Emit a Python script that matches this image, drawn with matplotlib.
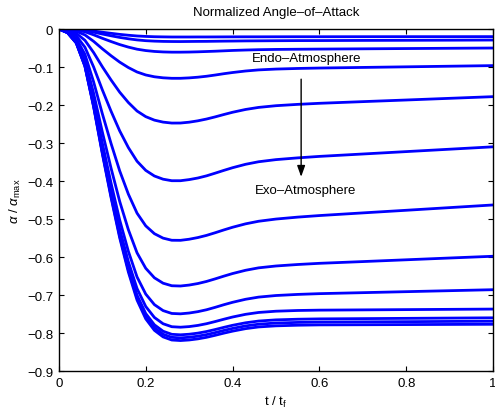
import numpy as np
import matplotlib
matplotlib.use('Agg')
import matplotlib.pyplot as plt

plt.rcParams.update({
    'font.family': ['Liberation Sans', 'DejaVu Sans'],
    'font.size': 9.5,
    'mathtext.fontset': 'custom',
    'mathtext.rm': 'Liberation Sans',
    'mathtext.it': 'Liberation Sans:italic',
    'axes.linewidth': 1.0,
})

# normalised time samples shared by every trajectory
t = [0, 0.02, 0.04, 0.06, 0.08, 0.10, 0.12, 0.14, 0.16, 0.18, 0.20, 0.22, 0.24, 0.26,
     0.28, 0.30, 0.32, 0.34, 0.36, 0.38, 0.40, 0.43, 0.46, 0.50, 0.55, 0.60, 0.70, 0.80, 0.90, 1.0]

# alpha / alpha_max, ordered from endo- to exo-atmospheric cases
alpha_01 = [0, -0.0003, -0.0009, -0.0025, -0.0053, -0.0084, -0.0113, -0.0141, -0.0164, -0.0183, -0.0195, -0.0203, -0.0207, -0.021,
            -0.021, -0.021, -0.0209, -0.0209, -0.0208, -0.0207, -0.0206, -0.0205, -0.0205, -0.0204, -0.0203, -0.0203, -0.0202, -0.0201, -0.0201, -0.020]
alpha_02 = [0, -0.0004, -0.0015, -0.004, -0.0083, -0.0132, -0.0178, -0.0221, -0.0257, -0.0287, -0.0307, -0.0319, -0.0326, -0.0329,
            -0.033, -0.0328, -0.0326, -0.0325, -0.0322, -0.0319, -0.0317, -0.0313, -0.0311, -0.0308, -0.0305, -0.0304, -0.030, -0.0297, -0.0294, -0.029]
alpha_03 = [0, -0.0007, -0.0027, -0.0073, -0.0153, -0.0244, -0.0329, -0.0409, -0.0476, -0.0531, -0.0567, -0.059, -0.0603, -0.0609,
            -0.0609, -0.0606, -0.060, -0.0592, -0.0584, -0.0574, -0.0564, -0.0553, -0.0544, -0.0537, -0.0532, -0.0528, -0.0521, -0.0514, -0.0507, -0.050]
alpha_04 = [0, -0.0016, -0.0059, -0.0156, -0.0325, -0.052, -0.0702, -0.0871, -0.1014, -0.1131, -0.1209, -0.1257, -0.1284, -0.1297,
            -0.1297, -0.1286, -0.1268, -0.1243, -0.1211, -0.1176, -0.1145, -0.1105, -0.1076, -0.1054, -0.1038, -0.1027, -0.1011, -0.0995, -0.0979, -0.0963]
alpha_05 = [0, -0.003, -0.0112, -0.0298, -0.062, -0.0992, -0.1339, -0.1662, -0.1934, -0.2158, -0.2306, -0.2398, -0.245, -0.2475,
            -0.2474, -0.2452, -0.2416, -0.2369, -0.2312, -0.225, -0.2191, -0.2117, -0.2063, -0.2018, -0.1983, -0.1955, -0.1911, -0.1868, -0.1824, -0.178]
alpha_06 = [0, -0.0048, -0.018, -0.048, -0.1, -0.16, -0.216, -0.268, -0.312, -0.348, -0.372, -0.3868, -0.3952, -0.3992,
            -0.3992, -0.3963, -0.3921, -0.3864, -0.3793, -0.372, -0.365, -0.356, -0.3493, -0.3437, -0.3391, -0.3352, -0.3289, -0.3226, -0.3163, -0.310]
alpha_07 = [0, -0.0067, -0.0251, -0.0668, -0.1393, -0.2228, -0.3008, -0.3732, -0.4345, -0.4846, -0.518, -0.5386, -0.5503, -0.5559,
            -0.5561, -0.5532, -0.5488, -0.5431, -0.5361, -0.5287, -0.5217, -0.5127, -0.5059, -0.5001, -0.495, -0.4909, -0.4839, -0.477, -0.470, -0.463]
alpha_08 = [0, -0.0081, -0.0305, -0.0812, -0.1693, -0.2708, -0.3656, -0.4536, -0.5281, -0.589, -0.6296, -0.6547, -0.6689, -0.6756,
            -0.6763, -0.6738, -0.6698, -0.6643, -0.6575, -0.6503, -0.6435, -0.6349, -0.6285, -0.6236, -0.6197, -0.6166, -0.612, -0.6073, -0.6026, -0.598]
alpha_09 = [0, -0.009, -0.0338, -0.090, -0.1875, -0.300, -0.405, -0.5025, -0.585, -0.6525, -0.6975, -0.7253, -0.741, -0.7485,
            -0.7495, -0.7474, -0.7438, -0.7388, -0.7324, -0.7255, -0.7192, -0.7112, -0.7055, -0.7013, -0.6984, -0.6964, -0.6938, -0.6912, -0.6886, -0.686]
alpha_10 = [0, -0.0094, -0.0353, -0.0942, -0.1963, -0.314, -0.4239, -0.526, -0.6123, -0.683, -0.7301, -0.7591, -0.7756, -0.7834,
            -0.7847, -0.7831, -0.780, -0.7755, -0.7698, -0.7637, -0.7579, -0.7508, -0.7459, -0.7426, -0.7407, -0.7398, -0.7391, -0.7384, -0.7377, -0.737]
alpha_11 = [0, -0.0097, -0.0362, -0.0966, -0.2013, -0.322, -0.4347, -0.5394, -0.6279, -0.7004, -0.7487, -0.7784, -0.7953, -0.8034,
            -0.8047, -0.8032, -0.8003, -0.7961, -0.7908, -0.7851, -0.7797, -0.7731, -0.7685, -0.7654, -0.7637, -0.7628, -0.7621, -0.7614, -0.7607, -0.760]
alpha_12 = [0, -0.0098, -0.0366, -0.0976, -0.2033, -0.3252, -0.439, -0.5447, -0.6341, -0.7073, -0.7561, -0.7862, -0.8032, -0.8114,
            -0.8127, -0.8112, -0.8083, -0.8042, -0.7989, -0.7932, -0.7879, -0.7813, -0.7768, -0.7737, -0.7721, -0.7712, -0.7706, -0.7701, -0.7695, -0.769]
alpha_13 = [0, -0.0098, -0.0369, -0.0984, -0.205, -0.328, -0.4428, -0.5494, -0.6396, -0.7134, -0.7626, -0.7929, -0.8102, -0.8184,
            -0.8198, -0.8183, -0.8154, -0.8113, -0.806, -0.8003, -0.7951, -0.7885, -0.784, -0.7811, -0.7795, -0.7786, -0.7782, -0.7778, -0.7774, -0.777]

curves = [alpha_01, alpha_02, alpha_03, alpha_04, alpha_05, alpha_06, alpha_07,
          alpha_08, alpha_09, alpha_10, alpha_11, alpha_12, alpha_13]

x_ticks = [0, 0.2, 0.4, 0.6, 0.8, 1.0]
x_tick_labels = ['0', '0.2', '0.4', '0.6', '0.8', '1']
y_ticks = [0, -0.1, -0.2, -0.3, -0.4, -0.5, -0.6, -0.7, -0.8, -0.9]
y_tick_labels = ['0', '\u22120.1', '\u22120.2', '\u22120.3', '\u22120.4',
                 '\u22120.5', '\u22120.6', '\u22120.7', '\u22120.8', '\u22120.9']

fig = plt.figure(figsize=(4.95, 4.14), dpi=100)
ax = fig.add_axes([0.119, 0.1014, 0.877, 0.8261])

for a in curves:
    ax.plot(t, a, color='#0000ff', linewidth=2.0, solid_joinstyle='round',
            solid_capstyle='round')

ax.set_xlim(0, 1)
ax.set_ylim(-0.9, 0)
ax.set_xticks(x_ticks)
ax.set_xticklabels(x_tick_labels)
ax.set_yticks(y_ticks)
ax.set_yticklabels(y_tick_labels)
ax.tick_params(direction='in', length=3.5, width=0.8, top=True, right=True,
               labelsize=9.5, pad=4)

ax.set_title('Normalized Angle\u2013of\u2013Attack', fontsize=9.5, pad=10)
ax.set_xlabel(r't / t$_{\rm f}$', fontsize=9.5, labelpad=4)
ax.set_ylabel(r'$\alpha$ / $\alpha_{\rm max}$', fontsize=9.5, labelpad=3)

# direction of increasing altitude
ax.text(0.444, -0.076, 'Endo\u2013Atmosphere', fontsize=9.5, va='center', ha='left')
ax.text(0.452, -0.424, 'Exo\u2013Atmosphere', fontsize=9.5, va='center', ha='left')
ax.annotate('', xy=(0.558, -0.389), xytext=(0.558, -0.132),
            arrowprops=dict(arrowstyle='-|>,head_width=0.25,head_length=0.7',
                            color='black', linewidth=1.0, shrinkA=0, shrinkB=0))

fig.savefig('out.png', dpi=100)
